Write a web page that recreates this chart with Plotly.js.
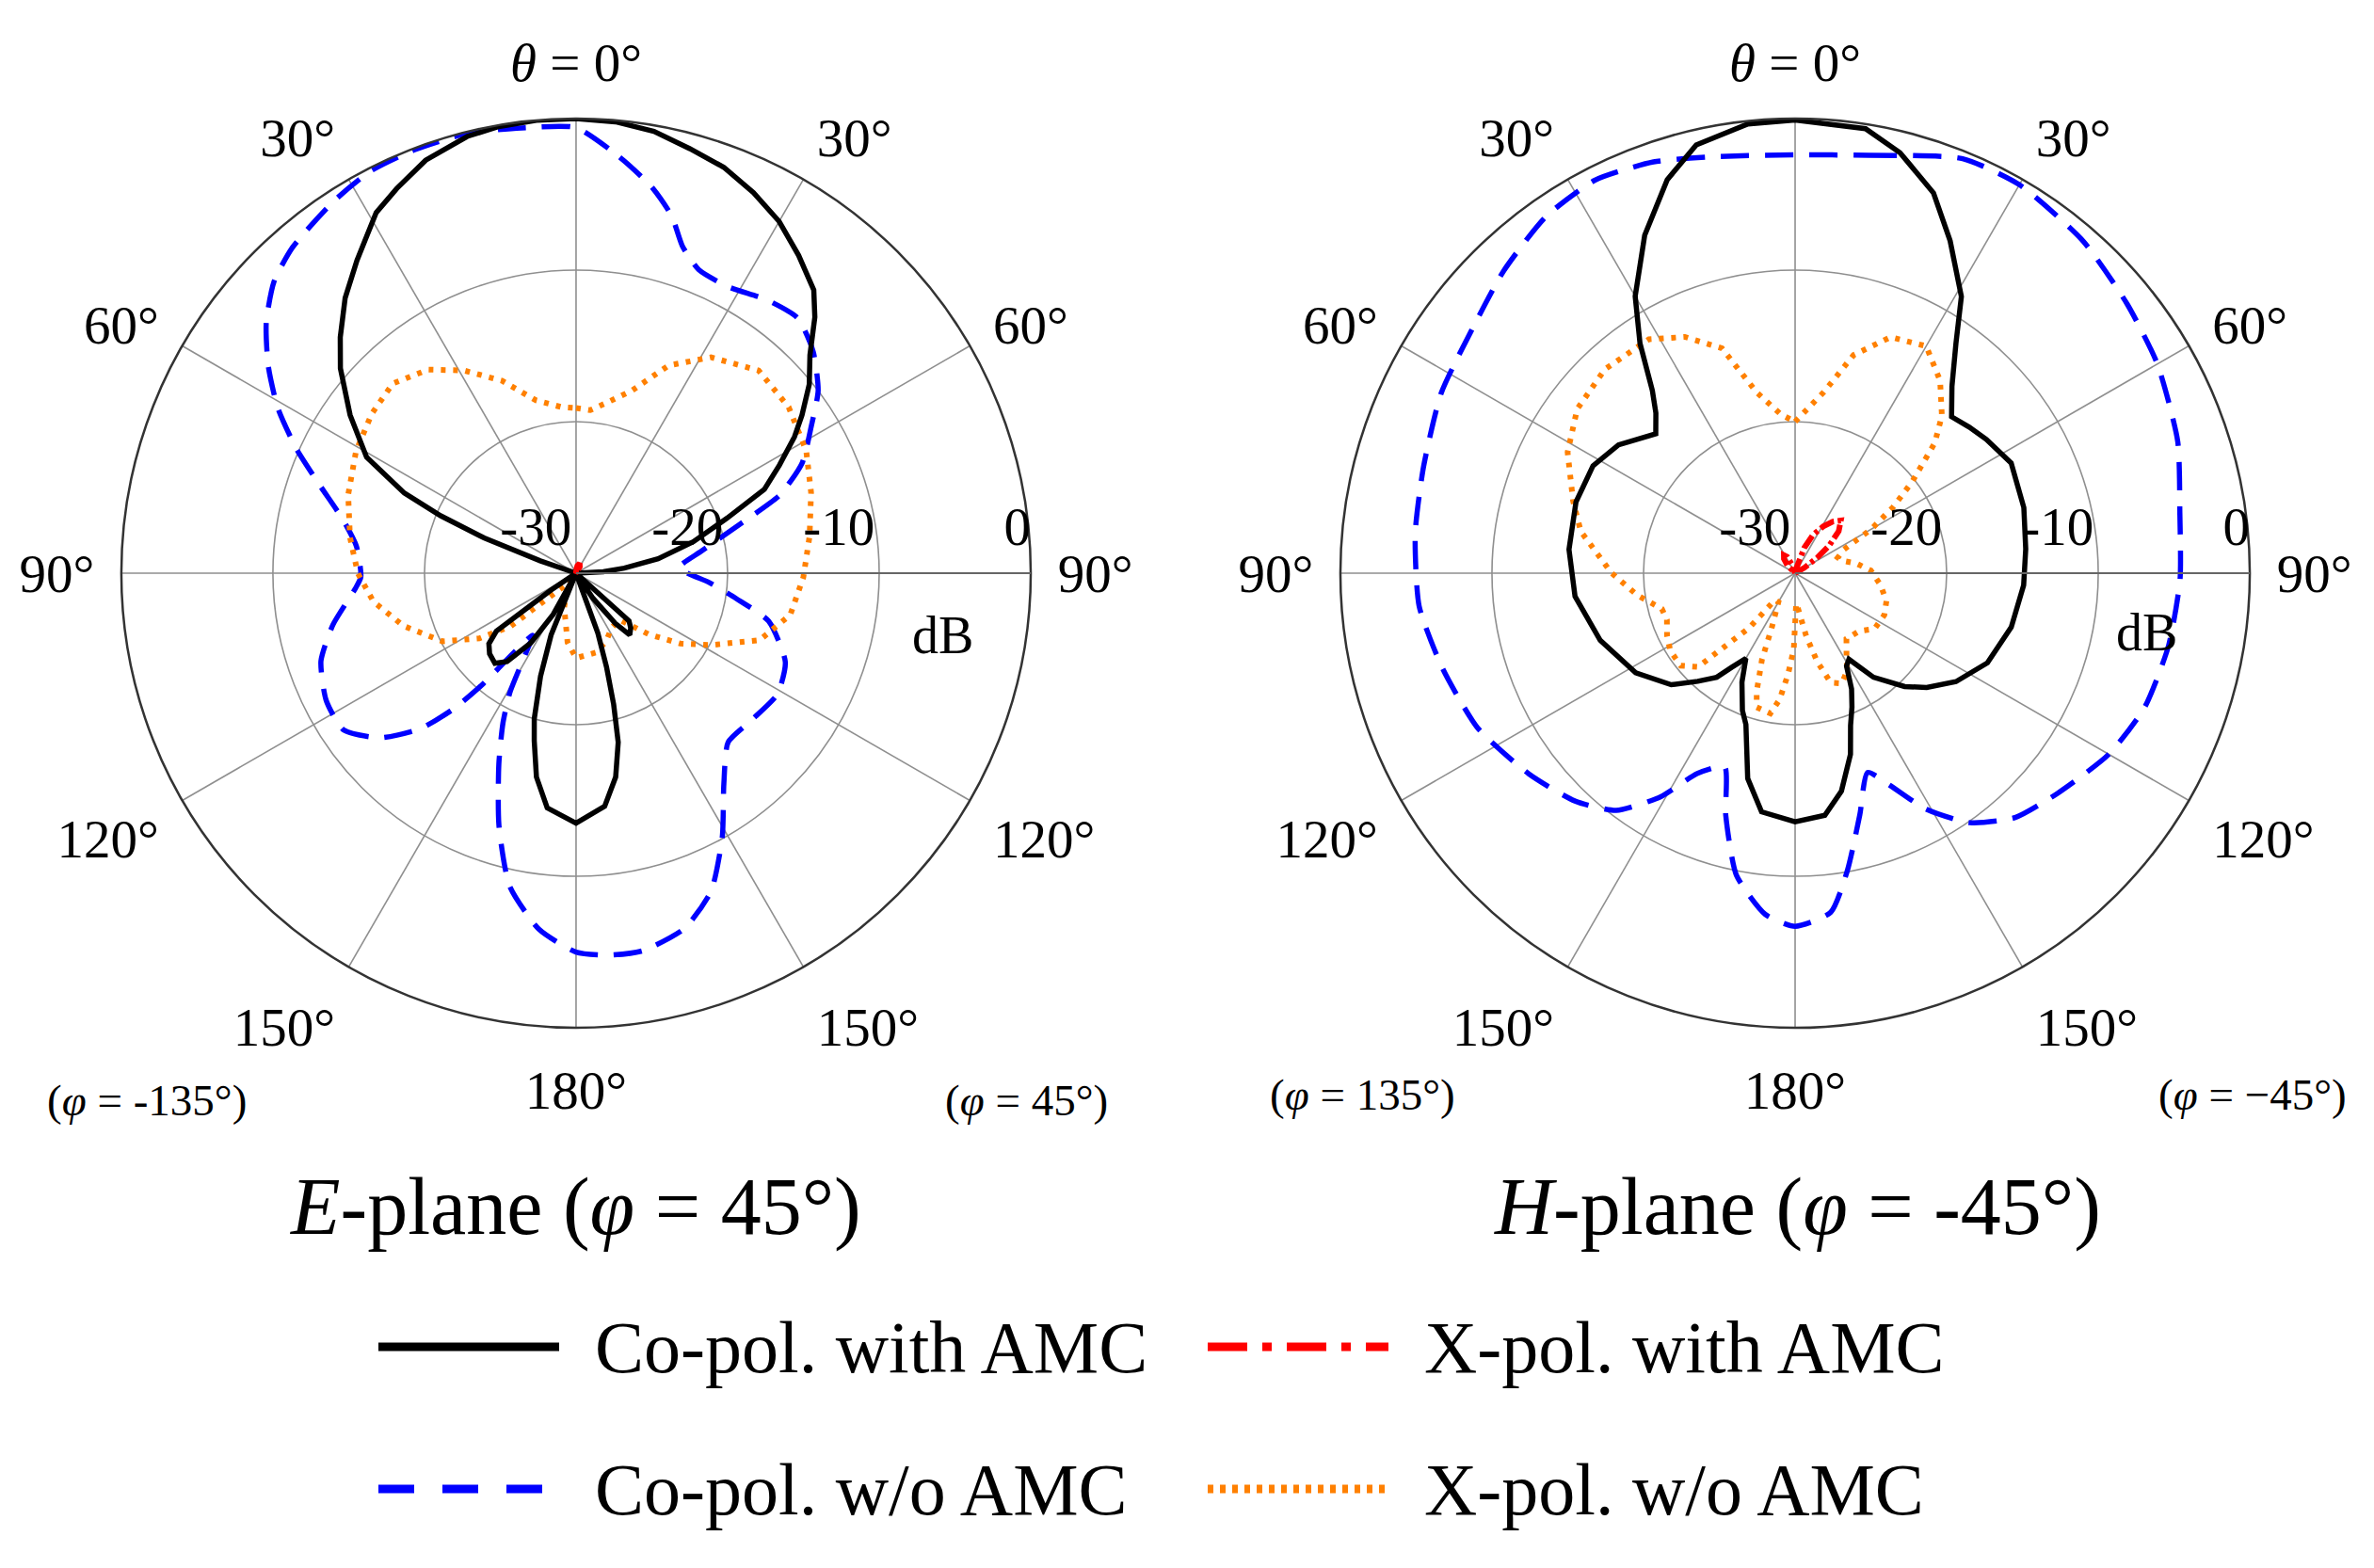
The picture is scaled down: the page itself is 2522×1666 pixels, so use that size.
<!DOCTYPE html>
<html>
<head>
<meta charset="utf-8">
<script src="https://cdn.plot.ly/plotly-3.0.1.min.js"></script>
<style>
  html, body { margin: 0; padding: 0; background: #fff; }
  #chart { width: 2522px; height: 1666px; }
</style>
</head>
<body>
<div id="chart"></div>
<script>
// ---- data (theta clockwise from broadside, dB) ----
// E-plane (phi = 45 deg)
var eCoAmcTheta = [0,5,10,15,20,25,30,35,40,43,47,51,55,58,62,66,70,75,80,84,87,90,128,132,135,139,142,146,150,157,160,162,164,166,169,173,180,187,191,194,196,199,202,205,207,209,213,218,222,227,231,234,236,238,287,289,291,293,295,299,305,311,315,320,325,331,335,340,346,350,355,360];
var eCoAmcDb = [0,-0.1,-0.4,-1.0,-1.5,-2.3,-3.2,-4.4,-5.6,-6.9,-8.9,-10.2,-11.8,-13.0,-14.8,-16.4,-19.4,-22.0,-24.5,-26.8,-28.2,-30,-30,-25.3,-24.9,-24.6,-25.8,-28.0,-30,-30,-25.8,-23.5,-21.0,-18.5,-16.3,-14.5,-13.5,-14.4,-16.3,-18.6,-20.0,-22.8,-25.6,-30,-30,-26.9,-24.5,-22.6,-22.0,-22.2,-22.6,-23.5,-28,-30,-30,-27.5,-23.5,-20.3,-17.5,-14.2,-11.8,-9.4,-8.0,-6.3,-4.8,-2.8,-2.0,-1.0,-0.3,-0.1,0,0];

var eCoNoTheta = [0,6,11,15,18,22,28,35,41,47,53,58,64,69,73,80,87,94,99,104,113,121,130,138,145,151,157,163,170,175,180,186,192,197,202,206,209,212,215,218,220,222,225,230,236,243,251,258,266,269,277,283,289,294,299,304,309,314,319,327,333,339,346,353,360];
var eCoNoDb = [-0.6,-2.4,-4.0,-5.6,-7.3,-8.4,-8.6,-8.0,-7.7,-8.6,-10.0,-11.7,-13.4,-15.6,-18.5,-21.6,-23.2,-21.2,-19.3,-16.9,-15.0,-14.5,-14.9,-15.0,-13.0,-10.1,-7.2,-5.5,-4.7,-4.7,-5.0,-6.4,-8.9,-12.6,-16.4,-19.0,-21.0,-23.7,-25.0,-23.4,-20.5,-18.0,-15.5,-13.1,-11.5,-11.5,-12.2,-13.6,-15.4,-15.8,-15.4,-14.2,-12.1,-9.8,-7.5,-5.5,-3.7,-2.3,-1.5,-0.7,-0.2,-0.1,-0.1,-0.4,-0.6];

var eXAmcTheta = [0,10,20,30,40,60,120,180,240,300,340,360];
var eXAmcDb = [-29.8,-29.5,-29.3,-29.5,-29.9,-30,-30,-30,-30,-30,-30,-29.8];

var eXNoTheta = [0,5,10,17,24,32,42,52,62,71,81,91,101,110,118,124,130,137,147,156,166,180,187,199,205,215,224,231,236,243,253,262,270,279,289,299,308,316,324,331,339,347,355,360];
var eXNoDb = [-19.1,-19.2,-18.6,-17.4,-15.0,-13.2,-12.0,-12.2,-12.8,-13.6,-14.4,-15.0,-15.6,-17.1,-19.9,-21.7,-23.7,-25.8,-25.7,-25.1,-24.6,-24.4,-25.4,-27.6,-28.4,-29.4,-28.7,-24.4,-22.3,-20.1,-18.1,-16.5,-15.6,-14.9,-14.1,-13.4,-12.9,-12.6,-13.4,-14.7,-16.4,-18.3,-19.0,-19.1];

// H-plane (phi = -45 deg)
var hCoAmcTheta = [0,9,14,20,25,31,35,40,45,50,55,63,74,84,93,104,115,124,131,136,143,148,151,154,157,160,163,168,173,180,188,193,198,201,206,210,214,217,222,228,238,251,264,276,288,298,306,315,319,322,326,330,336,342,347,354,360];
var hCoAmcDb = [-0.1,-0.3,-1.4,-3.3,-5.8,-8.7,-11.5,-13.9,-15.4,-15.0,-14.6,-14.0,-14.3,-14.7,-14.9,-15.3,-16.0,-17.2,-18.5,-19.6,-21.4,-23.3,-23.0,-21.5,-20.4,-19.3,-17.5,-15.3,-13.9,-13.6,-14.1,-16.1,-19.5,-20.3,-22.0,-23.5,-22.5,-21.4,-20.4,-19.0,-17.6,-16.4,-15.4,-15.0,-14.8,-14.9,-15.6,-17.0,-16.0,-14.7,-11.7,-8.9,-5.6,-2.7,-1.0,-0.2,-0.1];

var hCoNoTheta = [0,10,22,30,41,51,60,71,81,91,101,111,120,130,138,145,151,156,160,165,170,174,180,185,191,196,200,206,211,217,224,233,244,255,265,276,286,297,307,316,325,333,341,349,360];
var hCoNoDb = [-2.4,-2.0,-0.5,-0.4,-1.0,-1.8,-2.4,-3.3,-4.3,-4.6,-4.9,-5.3,-6.1,-7.4,-8.3,-9.9,-12.2,-14.7,-16.0,-13.5,-10.1,-7.5,-6.7,-7.4,-9.7,-13.4,-16.4,-15.3,-12.8,-10.4,-9.1,-8.0,-6.7,-5.9,-5.1,-4.8,-4.5,-3.8,-3.3,-2.3,-1.3,-0.9,-1.3,-2.0,-2.4];

var hXAmcTheta = [0,15,20,25,31,36,41,46,51,55,60,65,90,180,270,305,315,322,328,334,340,348,360];
var hXAmcDb = [-30,-29.6,-28.2,-27.2,-26.4,-25.8,-25.4,-26.0,-27.1,-28.2,-29.3,-30,-30,-30,-30,-30,-29.3,-28.8,-28.6,-28.8,-29.4,-30,-30];

var hXNoTheta = [0,9,15,22,30,37,43,47,52,56,60,64,70,75,81,88,98,107,115,125,132,142,148,152,157,162,166,170,175,178,181,184,187,190,196,198,201,203,210,217,220,226,231,238,244,250,255,262,270,281,288,298,307,317,328,335,342,348,355,360];
var hXNoDb = [-20.0,-17.9,-15.1,-13.2,-12.7,-14.1,-15.8,-17.4,-20.2,-22.2,-24.2,-26.4,-27.0,-26.8,-25.9,-25.0,-24.3,-23.7,-23.5,-23.6,-24.3,-24.5,-23.6,-22.7,-22.1,-22.4,-24.0,-25.8,-27.6,-28.0,-25.0,-23.3,-21.6,-20.6,-20.8,-21.8,-23.9,-26.0,-27.8,-27.8,-25.3,-21.1,-20.3,-20.3,-20.6,-21.0,-20.9,-19.5,-17.9,-15.6,-14.6,-13.0,-12.0,-11.6,-11.8,-12.8,-14.4,-17.8,-19.5,-20.0];

var angleTicks = [0,30,60,90,120,150,180,210,240,270,300,330];
var angleLabels = ['<i>θ</i> = 0°','30°','60°','90°','120°','150°','180°','150°','120°','90°','60°','30°'];
var dbTicks = [-30,-20,-10,0];
var nb = '\u00a0';
var dbLabels = ['-30' + nb.repeat(6), '-20' + nb.repeat(6), '-10' + nb.repeat(6), '0' + nb.repeat(2)];

var seriesNames = ['Co-pol. with AMC','X-pol. with AMC','Co-pol. w/o AMC','X-pol. w/o AMC'];

// ---- styles ----
var W = 2522, H = 1666;
var SERIF = 'Liberation Serif, Times New Roman, serif';
var styles = {
  coAmc: {color: '#000000', width: 5.5, dash: 'solid'},
  xAmc:  {color: '#ff0000', width: 6, dash: '16px,4px,4px,4px'},
  coNo:  {color: '#0000ff', width: 5.5, dash: '30px,17px', shape: 'spline', smoothing: 0.6},
  xNo:   {color: '#ff8000', width: 6, dash: '5px,8px'}
};

function trace(theta, r, subplot, st, name) {
  return {
    type: 'scatterpolar', mode: 'lines', subplot: subplot, name: name,
    theta: theta, r: r, line: st, showlegend: false, hoverinfo: 'skip'
  };
}

var data = [
  trace(eCoNoTheta, eCoNoDb, 'polar2', styles.coNo, seriesNames[2]),
  trace(eXNoTheta, eXNoDb, 'polar2', styles.xNo, seriesNames[3]),
  trace(eCoAmcTheta, eCoAmcDb, 'polar2', styles.coAmc, seriesNames[0]),
  trace(eXAmcTheta, eXAmcDb, 'polar2', styles.xAmc, seriesNames[1]),
  trace(hCoNoTheta, hCoNoDb, 'polar4', styles.coNo, seriesNames[2]),
  trace(hXNoTheta, hXNoDb, 'polar4', styles.xNo, seriesNames[3]),
  trace(hCoAmcTheta, hCoAmcDb, 'polar4', styles.coAmc, seriesNames[0]),
  trace(hXAmcTheta, hXAmcDb, 'polar4', styles.xAmc, seriesNames[1])
];

var tickFont = {family: SERIF, size: 57, color: '#000'};

// dotted minor grid + inner ticks underneath
function backPolar(xd, yd) {
  return {
    domain: {x: xd, y: yd},
    bgcolor: '#ffffff',
    angularaxis: {
      rotation: 90, direction: 'clockwise', tickmode: 'linear', tick0: 0, dtick: 10,
      showgrid: true, griddash: 'dot', gridcolor: '#c4c4c4', gridwidth: 1.3,
      showline: true, linecolor: '#333', linewidth: 2.5,
      ticks: 'inside', ticklen: 13, tickwidth: 1.5, tickcolor: '#333',
      showticklabels: false
    },
    radialaxis: {
      range: [-30, 0], angle: 0, side: 'counterclockwise',
      tickmode: 'array', tickvals: [-25,-15,-5],
      showgrid: true, griddash: 'dot', gridcolor: '#c4c4c4', gridwidth: 1.3,
      showline: false, ticks: 'outside', ticklen: 14, tickwidth: 1.5, tickcolor: '#555',
      showticklabels: false
    }
  };
}

// solid major grid, labels and the data
function frontPolar(xd, yd) {
  return {
    domain: {x: xd, y: yd},
    bgcolor: 'rgba(0,0,0,0)',
    angularaxis: {
      rotation: 90, direction: 'clockwise', tickmode: 'array',
      tickvals: angleTicks, ticktext: angleLabels,
      showgrid: true, gridcolor: '#8f8f8f', gridwidth: 1.6,
      showline: true, linecolor: '#333', linewidth: 2.5,
      ticks: 'outside', ticklen: 16, tickcolor: 'rgba(0,0,0,0)',
      tickfont: tickFont
    },
    radialaxis: {
      range: [-30, 0], angle: 0, side: 'counterclockwise',
      tickmode: 'array', tickvals: dbTicks, ticktext: dbLabels, tickangle: 0,
      showgrid: true, gridcolor: '#8f8f8f', gridwidth: 1.6,
      showline: true, linecolor: '#666', linewidth: 2,
      ticks: 'outside', ticklen: 6, tickcolor: 'rgba(0,0,0,0)',
      tickfont: tickFont
    }
  };
}

var yDom = [0.3445, 0.9244];
var leftX = [0.0511, 0.4342];
var rightX = [0.5646, 0.9477];

function px(x) { return x / W; }
function py(y) { return 1 - y / H; }

var annotations = [
  {text: '<i>E</i>-plane (<i>φ</i> = 45°)', x: px(611), y: py(1282), size: 86},
  {text: '<i>H</i>-plane (<i>φ</i> = -45°)', x: px(1909), y: py(1282), size: 86},
  {text: '(<i>φ</i> = -135°)', x: px(156), y: py(1169), size: 47},
  {text: '(<i>φ</i> = 45°)', x: px(1090), y: py(1169), size: 47},
  {text: '(<i>φ</i> = 135°)', x: px(1447), y: py(1163), size: 47},
  {text: '(<i>φ</i> = −45°)', x: px(2393), y: py(1163), size: 47},
  {text: 'dB', x: px(1002), y: py(675), size: 56},
  {text: 'dB', x: px(2280), y: py(672), size: 56}
].map(function (a) {
  return {text: a.text, x: a.x, y: a.y, xref: 'paper', yref: 'paper',
    xanchor: 'center', yanchor: 'middle', showarrow: false,
    font: {family: SERIF, size: a.size, color: '#000'}};
});

// hand-made legend, two columns like the original figure
var legendRows = [
  {name: seriesNames[0], st: styles.coAmc, x0: 402, y: 1431, dash: 'solid'},
  {name: seriesNames[1], st: styles.xAmc, x0: 1283, y: 1431, dash: '42px,16px,10px,16px'},
  {name: seriesNames[2], st: styles.coNo, x0: 402, y: 1582, dash: '38px,30px'},
  {name: seriesNames[3], st: styles.xNo, x0: 1283, y: 1582, dash: '6px,7px'}
];
var shapes = [];
legendRows.forEach(function (row) {
  shapes.push({type: 'line', xref: 'paper', yref: 'paper',
    x0: px(row.x0), x1: px(row.x0 + 192), y0: py(row.y), y1: py(row.y),
    line: {color: row.st.color, width: 9, dash: row.dash}});
  annotations.push({text: row.name, xref: 'paper', yref: 'paper',
    x: px(row.x0 + 228), y: py(row.y), xanchor: 'left', yanchor: 'middle',
    showarrow: false, font: {family: SERIF, size: 78, color: '#000'}});
});

var layout = {
  width: W, height: H,
  margin: {l: 0, r: 0, t: 0, b: 0},
  paper_bgcolor: '#ffffff',
  showlegend: false,
  polar: backPolar(leftX, yDom),
  polar2: frontPolar(leftX, yDom),
  polar3: backPolar(rightX, yDom),
  polar4: frontPolar(rightX, yDom),
  annotations: annotations,
  shapes: shapes
};

Plotly.newPlot('chart', data, layout, {staticPlot: true});
</script>
</body>
</html>
